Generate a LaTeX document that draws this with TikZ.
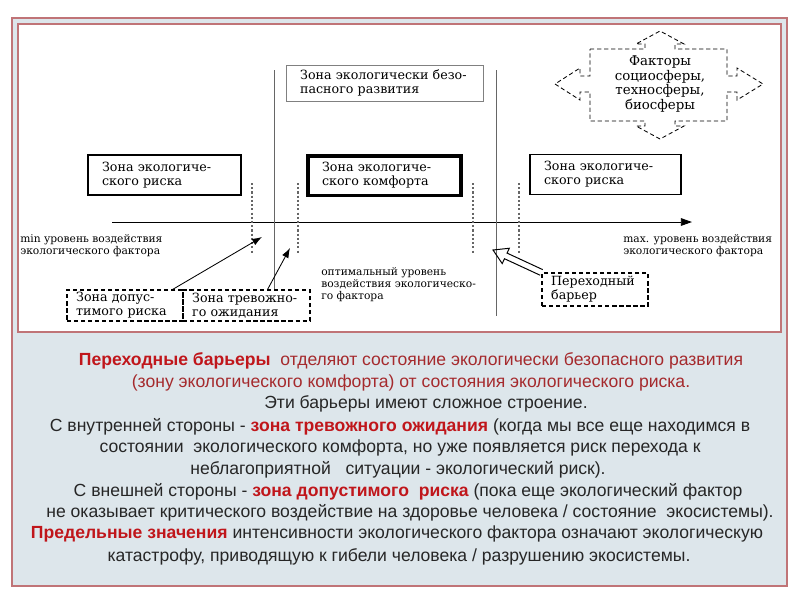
\documentclass[tikz,border=0pt]{standalone}
\usepackage{fontspec}
\setmainfont{Liberation Sans}
\newfontfamily\diagfont{DejaVu Serif}
\usetikzlibrary{positioning,arrows.meta,calc}
\definecolor{frameC}{HTML}{C07477}
\definecolor{panelC}{HTML}{DDE6EB}
\definecolor{redB}{HTML}{C0161B}
\definecolor{redN}{HTML}{A52A2D}
\definecolor{inkC}{HTML}{262626}
\newcommand{\hl}[1]{{\bfseries\color{redB}#1}}
\tikzset{
  zone/.style={draw, align=left, font=\diagfont\fontsize{9}{10}\selectfont,
               inner xsep=10pt, inner ysep=0pt, minimum height=28.4pt, line width=1.3pt},
  dzone/.style={zone, line width=0.8pt, dash pattern=on 3pt off 2pt, inner xsep=6.5pt,
                minimum height=22pt},
  lbl/.style={font=\diagfont\fontsize{7.6}{8.6}\selectfont, align=left, inner sep=0pt, anchor=west},
  bar/.style={line width=0.7pt, gray!80!black},
  dbar/.style={line width=0.8pt, dash pattern=on 1.5pt off 1.5pt, gray!80!black},
  axis/.style={line width=0.7pt, -{Triangle[length=8pt,width=5.5pt]}},
  ptr/.style={line width=0.6pt, -{Latex[length=7pt,width=5pt]}},
  hollow/.style={draw, line width=0.7pt, line join=miter},
  txt/.style={font=\fontsize{12.5}{15}\selectfont, text=inkC, inner sep=0pt},
}
\begin{document}
\begin{tikzpicture}[x=0.025cm, y=-0.025cm]
\useasboundingbox (0,0) rectangle (800,600);
% frame and panels
\draw[frameC, line width=1.2pt, fill=panelC] (12,18) rectangle (787,586);
\draw[frameC, line width=0.8pt, fill=white] (18,24) rectangle (781,332);

% axis and barriers
\coordinate (ax0) at (112,222);
\coordinate (ax1) at (692,222);
\draw[axis] (ax0) -- (ax1);
\draw[bar] (274,70) -- (274,290);
\draw[bar] (496,70) -- (496,316);
\foreach \x in {252,298,473,519}
  \draw[dbar] (\x,183) -- (\x,253);

% zones
\node[zone, draw=gray, line width=0.6pt, text width=120pt, minimum height=25.6pt] (safe) at (384.5,83)
  {Зона экологически безо-\\пасного развития};
\node[zone, text width=88.8pt] (riskL) at (164.5,175) {Зона экологиче-\\ского риска};
\node[zone, line width=2.8pt, text width=88.8pt] (comf) at (384.5,175.5) {Зона экологиче-\\ского комфорта};
\node[zone, text width=87.4pt] (riskR) at (605.5,174.5) {Зона экологиче-\\ского риска};

\node[lbl] (minL) at (20,246) {min уровень воздействия\\экологического фактора};
\node[lbl] (maxL) at (623,246) {max. уровень воздействия\\экологического фактора};
\node[lbl] (optL) at (321,285) {оптимальный уровень\\воздействия экологическо-\\го фактора};

\node[dzone, text width=69.5pt] (allowed) at (125,305.5) {Зона допус-\\тимого риска};
\node[dzone, text width=77.3pt] (alarm) at (246.5,305.5) {Зона тревожно-\\го ожидания};
\node[dzone, text width=62.4pt, minimum height=23.5pt] (trans) at (595,289.5) {Переходный\\барьер};

\coordinate (ta) at (262,237);
\coordinate (tb) at (290,248);
\draw[ptr] ($(allowed.north east)+(-11,0)$) -- (ta);
\draw[ptr] ($(alarm.north east)+(-43,0)$) -- (tb);

% hollow arrow to the barrier
\coordinate (bt) at (493,250);
\coordinate (bs) at (trans.north west);
\coordinate (bb) at ($(bt)!10pt!(bs)$);
\draw[hollow] ($(bs)!2.2pt!90:(bt)$) -- ($(bb)!2.2pt!-90:(bs)$) -- ($(bb)!6pt!-90:(bs)$) -- (bt)
  -- ($(bb)!6pt!90:(bs)$) -- ($(bb)!2.2pt!90:(bs)$) -- ($(bs)!2.2pt!-90:(bt)$);

% factors
\node[font=\diagfont\fontsize{9.5}{8.8}\selectfont, align=center, inner sep=0pt] (fac) at (660,84)
  {Факторы\\социосферы,\\техносферы,\\биосферы};
\draw[line width=0.6pt, dash pattern=on 3pt off 2pt]
  (590,49) -- (645,49) -- (645,44) -- (636,44) -- (660,31) -- (684,44) -- (675,44) -- (675,49)
  -- (727,49) -- (727,76) -- (737,76) -- (737,68) -- (763,84) -- (737,100) -- (737,92) -- (727,92)
  -- (727,121) -- (675,121) -- (675,126) -- (684,126) -- (660,139) -- (636,126) -- (645,126) -- (645,121)
  -- (590,121) -- (590,92) -- (580,92) -- (580,100) -- (555,84) -- (580,68) -- (580,76) -- (590,76) -- cycle;

% text
\node[txt] (t1) at (411,361) {\hl{Переходные барьеры}\ \ \textcolor{redN}{отделяют состояние экологически безопасного развития}};
\node[txt, text=redN] (t2) at (411,383) {(зону экологического комфорта) от состояния экологического риска.};
\node[txt] (t3) at (426,404) {Эти барьеры имеют сложное строение.};
\node[txt] (t4) at (400,427) {С внутренней стороны - \hl{зона тревожного ожидания} (когда мы все еще находимся в};
\node[txt] (t5) at (400,448) {состоянии\ \ экологического комфорта, но уже появляется риск перехода к};
\node[txt] (t6) at (398,470) {неблагоприятной\ \ \ ситуации - экологический риск).};
\node[txt] (t7) at (408,492) {С внешней стороны - \hl{зона допустимого\ \ риска} (пока еще экологический фактор};
\node[txt] (t8) at (410,513) {не оказывает критического воздействие на здоровье человека / состояние\ \ экосистемы).};
\node[txt] (t9) at (397,534) {\hl{Предельные значения} интенсивности экологического фактора означают экологическую};
\node[txt] (t10) at (399,557) {катастрофу, приводящую к гибели человека / разрушению экосистемы.};
\end{tikzpicture}
\end{document}
